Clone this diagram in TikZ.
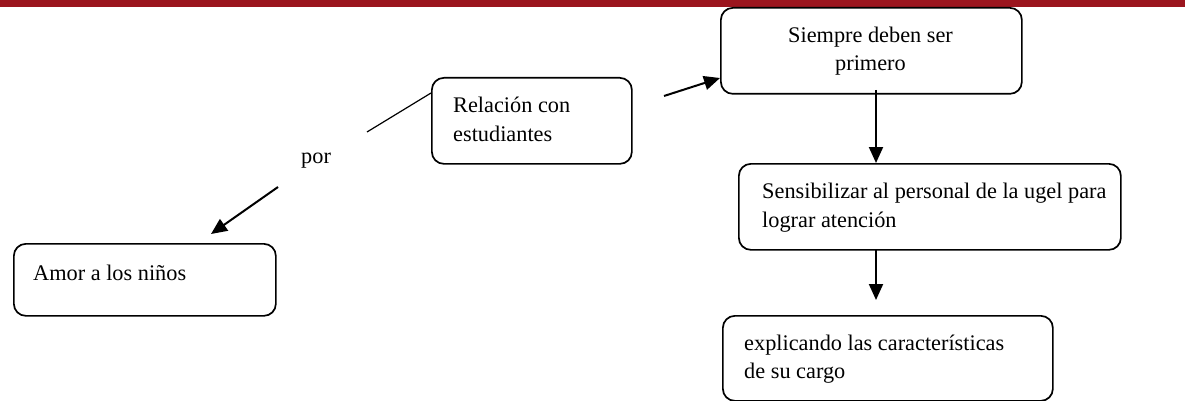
\documentclass[tikz,border=0pt]{standalone}
\usepackage{fontspec}
\setmainfont{Liberation Serif}
\usetikzlibrary{arrows.meta}
\definecolor{barred}{RGB}{155,21,30}
\tikzset{
  box/.style={draw=black, line width=1.7pt, rounded corners=12pt, anchor=north west, inner sep=0pt},
  txt/.style={anchor=base west, inner sep=0pt, font=\fontsize{22.3}{28}\selectfont},
  arr/.style={line width=2pt, -{Triangle[length=16pt,width=14pt]}},
  thin/.style={line width=1.2pt}
}
\begin{document}
\begin{tikzpicture}[x=1pt,y=-1pt]
\useasboundingbox (0,0) rectangle (1185,401);
\fill[barred] (0,0) rectangle (1185,7);
% boxes
\node[box, minimum width=301pt, minimum height=86pt] (siempre) at (720,7) {};
\node[box, minimum width=200pt, minimum height=86pt] (relacion) at (431,77) {};
\node[box, minimum width=382pt, minimum height=86pt] (sensib) at (738,163) {};
\node[box, minimum width=262pt, minimum height=72pt] (amor) at (13,243) {};
\node[box, minimum width=330pt, minimum height=85pt] (explic) at (722,315) {};
% texts
\node[txt, anchor=base] (ts1) at (870.5,43) {Siempre deben ser};
\node[txt, anchor=base] (ts2) at (870.5,71) {primero};
\node[txt] (tr1) at (453,113) {Relación con};
\node[txt] (tr2) at (453,142) {estudiantes};
\node[txt] (tse1) at (762,198) {Sensibilizar al personal de la ugel para};
\node[txt] (tse2) at (762,227) {lograr atención};
\node[txt] (ta) at (33,280) {Amor a los niños};
\node[txt] (te1) at (744,350) {explicando las características};
\node[txt] (te2) at (744,378) {de su cargo};
\node[txt] (por) at (301,163) {por};
% connector ends
\coordinate (c1) at (664,96);
\coordinate (c1e) at (720,78);
\coordinate (c2) at (367,132);
\coordinate (c2e) at (431,93);
\coordinate (c3) at (278,187);
\coordinate (c3e) at (211,234);
\coordinate (c4) at (876,90);
\coordinate (c4e) at (876,163);
\coordinate (c5) at (876,250);
\coordinate (c5e) at (876,300);
\draw[arr] (c1) -- (c1e);
\draw[thin] (c2) -- (c2e);
\draw[arr] (c3) -- (c3e);
\draw[arr] (c4) -- (c4e);
\draw[arr] (c5) -- (c5e);
\end{tikzpicture}
\end{document}
